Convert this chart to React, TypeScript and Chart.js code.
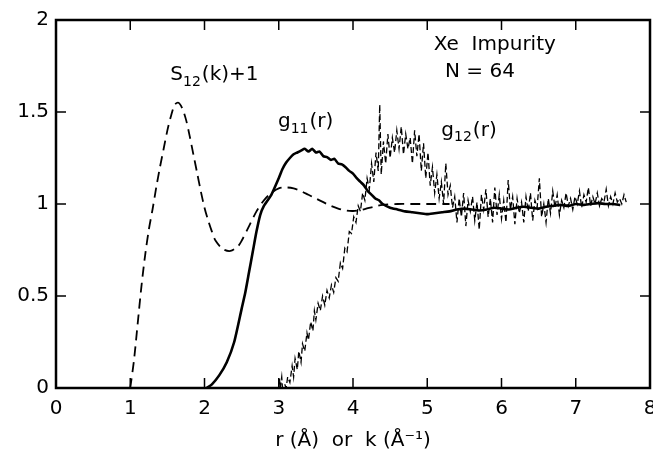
import React, { useEffect, useRef } from "react";
import { Chart, registerables } from "chart.js";
Chart.register(...registerables);

const FONT = "'DejaVu Sans', sans-serif";

const xRange = [0, 8];
const yRange = [0, 2];
const xStep = 1;
const yStep = 0.5;
const xTitle = "r (Å)  or  k (Å⁻¹)";

// S12(k)+1 : dashed structure factor
const s12: [number, number][] = [
  [1.0, 0], [1.05, 0.15], [1.1, 0.35], [1.15, 0.55], [1.2, 0.72], [1.25, 0.86], [1.3, 0.97],
  [1.35, 1.09], [1.4, 1.2], [1.45, 1.3], [1.5, 1.4], [1.55, 1.48], [1.6, 1.54], [1.65, 1.55],
  [1.7, 1.52], [1.75, 1.46], [1.8, 1.37], [1.85, 1.27], [1.9, 1.17], [1.95, 1.07], [2.0, 0.98],
  [2.05, 0.91], [2.1, 0.85], [2.15, 0.8], [2.25, 0.755], [2.35, 0.745], [2.45, 0.77], [2.5, 0.8],
  [2.6, 0.88], [2.7, 0.96], [2.8, 1.02], [2.9, 1.06], [3.0, 1.085], [3.1, 1.09], [3.2, 1.085],
  [3.3, 1.07], [3.4, 1.05], [3.5, 1.03], [3.6, 1.01], [3.7, 0.99], [3.8, 0.975], [3.9, 0.965],
  [4.0, 0.962], [4.1, 0.967], [4.2, 0.977], [4.3, 0.987], [4.4, 0.995], [4.6, 1.0], [4.8, 1.0],
  [5.0, 1.0], [5.3, 1.0],
];

// g11(r) : solid
const g11: [number, number][] = [
  [2.03, 0], [2.1, 0.02], [2.2, 0.07], [2.3, 0.14], [2.4, 0.25], [2.5, 0.43], [2.55, 0.52],
  [2.6, 0.63], [2.65, 0.74], [2.7, 0.85], [2.75, 0.94], [2.8, 0.99], [2.9, 1.05], [3.0, 1.14],
  [3.05, 1.19], [3.1, 1.225], [3.15, 1.25], [3.2, 1.27], [3.25, 1.28], [3.3, 1.29], [3.35, 1.3],
  [3.4, 1.285], [3.45, 1.3], [3.5, 1.28], [3.55, 1.285], [3.6, 1.26], [3.65, 1.255], [3.7, 1.24],
  [3.75, 1.245], [3.8, 1.22], [3.85, 1.215], [3.9, 1.2], [3.95, 1.18], [4.0, 1.165], [4.05, 1.14],
  [4.1, 1.12], [4.15, 1.1], [4.2, 1.07], [4.25, 1.05], [4.3, 1.03], [4.35, 1.02], [4.4, 1.0],
  [4.5, 0.98], [4.6, 0.97], [4.7, 0.96], [4.8, 0.955], [4.9, 0.95], [5.0, 0.945], [5.1, 0.95],
  [5.2, 0.955], [5.3, 0.96], [5.4, 0.97], [5.5, 0.975], [5.6, 0.97], [5.7, 0.965], [5.8, 0.97],
  [5.9, 0.98], [6.0, 0.975], [6.1, 0.97], [6.2, 0.98], [6.3, 0.985], [6.4, 0.98], [6.5, 0.975],
  [6.6, 0.985], [6.7, 0.99], [6.8, 0.995], [6.9, 0.99], [7.0, 1.0], [7.1, 0.995], [7.2, 1.0],
  [7.3, 1.005], [7.4, 1.0], [7.5, 1.0], [7.6, 0.995],
];

// g12(r) : noisy dashed
const g12: [number, number][] = [
  [3.0, 0], [3.01, 0.05], [3.02, 0], [3.04, 0.06], [3.05, 0], [3.08, 0.02], [3.1, 0], [3.12, 0.06],
  [3.15, 0.03], [3.18, 0.12], [3.2, 0.06], [3.22, 0.16], [3.25, 0.1], [3.27, 0.2], [3.3, 0.14],
  [3.32, 0.24], [3.35, 0.2], [3.38, 0.3], [3.4, 0.26], [3.43, 0.36], [3.46, 0.31], [3.48, 0.42],
  [3.5, 0.37], [3.53, 0.46], [3.56, 0.42], [3.59, 0.5], [3.62, 0.45], [3.65, 0.53], [3.68, 0.49],
  [3.71, 0.56], [3.74, 0.52], [3.77, 0.6], [3.8, 0.58], [3.83, 0.68], [3.86, 0.65], [3.89, 0.76],
  [3.92, 0.74], [3.95, 0.85], [3.98, 0.84], [4.01, 0.93], [4.04, 0.9], [4.07, 0.99], [4.1, 0.96],
  [4.13, 1.06], [4.16, 1.02], [4.19, 1.14], [4.22, 1.08], [4.25, 1.22], [4.28, 1.12], [4.31, 1.28],
  [4.34, 1.18], [4.36, 1.54], [4.38, 1.16], [4.41, 1.34], [4.44, 1.22], [4.47, 1.38], [4.5, 1.25],
  [4.53, 1.36], [4.56, 1.28], [4.59, 1.4], [4.62, 1.3], [4.65, 1.42], [4.68, 1.27], [4.71, 1.38],
  [4.74, 1.3], [4.77, 1.36], [4.8, 1.22], [4.83, 1.4], [4.86, 1.26], [4.89, 1.38], [4.92, 1.18],
  [4.95, 1.33], [4.98, 1.14], [5.01, 1.28], [5.04, 1.1], [5.07, 1.2], [5.1, 1.06], [5.13, 1.16],
  [5.16, 1.03], [5.19, 1.12], [5.22, 1.0], [5.25, 1.22], [5.28, 1.05], [5.31, 1.1], [5.34, 0.98],
  [5.37, 1.04], [5.4, 0.9], [5.43, 1.03], [5.46, 0.93], [5.49, 1.06], [5.52, 0.88], [5.55, 1.02],
  [5.58, 0.96], [5.61, 1.04], [5.64, 0.91], [5.67, 1.01], [5.7, 0.86], [5.73, 1.05], [5.76, 0.97],
  [5.79, 1.08], [5.82, 0.93], [5.85, 1.03], [5.88, 0.9], [5.91, 1.09], [5.94, 0.94], [5.97, 1.05],
  [6.0, 0.92], [6.03, 1.02], [6.06, 0.9], [6.09, 1.13], [6.12, 0.97], [6.15, 1.04], [6.18, 0.89],
  [6.21, 1.03], [6.24, 0.95], [6.27, 1.01], [6.3, 0.9], [6.33, 1.04], [6.36, 0.96], [6.39, 1.06],
  [6.42, 0.91], [6.45, 1.02], [6.48, 0.98], [6.51, 1.14], [6.54, 0.93], [6.57, 1.0], [6.6, 0.9],
  [6.63, 1.03], [6.66, 0.95], [6.69, 1.07], [6.72, 0.98], [6.75, 1.05], [6.78, 0.94], [6.81, 1.02],
  [6.84, 0.98], [6.87, 1.06], [6.9, 0.99], [6.93, 1.03], [6.96, 0.97], [6.99, 1.04], [7.02, 1.0],
  [7.05, 1.07], [7.08, 0.98], [7.11, 1.05], [7.14, 1.01], [7.17, 1.09], [7.2, 0.99], [7.23, 1.04],
  [7.26, 1.0], [7.29, 1.06], [7.32, 0.99], [7.35, 1.03], [7.38, 1.01], [7.41, 1.08], [7.44, 0.99],
  [7.47, 1.04], [7.5, 1.0], [7.53, 1.06], [7.56, 1.01], [7.59, 1.03], [7.62, 1.0], [7.65, 1.05],
  [7.68, 1.01],
];

// curve labels with subscripts: [text, isSubscript]
const curveLabels: { x: number; y: number; parts: [string, boolean][] }[] = [
  { x: 1.54, y: 1.7, parts: [["S", false], ["12", true], ["(k)+1", false]] },
  { x: 2.99, y: 1.446, parts: [["g", false], ["11", true], ["(r)", false]] },
  { x: 5.19, y: 1.4, parts: [["g", false], ["12", true], ["(r)", false]] },
];
const infoLines: { x: number; y: number; text: string }[] = [
  { x: 5.91, y: 1.864, text: "Xe  Impurity" },
  { x: 5.71, y: 1.717, text: "N = 64" },
];

const framePlugin = {
  id: "frameAndLabels",
  afterDatasetsDraw(chart: any) {
    const { ctx, chartArea: a, scales } = chart;
    const xs = scales.x;
    const ys = scales.y;
    ctx.save();
    ctx.strokeStyle = "#000";
    ctx.lineWidth = 2.5;
    ctx.strokeRect(a.left, a.top, a.right - a.left, a.bottom - a.top);
    ctx.lineWidth = 1.5;
    const tl = 10;
    xs.ticks.forEach((t: any) => {
      const px = xs.getPixelForValue(t.value);
      ctx.beginPath();
      ctx.moveTo(px, a.bottom);
      ctx.lineTo(px, a.bottom - tl);
      ctx.moveTo(px, a.top);
      ctx.lineTo(px, a.top + tl);
      ctx.stroke();
    });
    ys.ticks.forEach((t: any) => {
      const py = ys.getPixelForValue(t.value);
      ctx.beginPath();
      ctx.moveTo(a.left, py);
      ctx.lineTo(a.left + tl, py);
      ctx.moveTo(a.right, py);
      ctx.lineTo(a.right - tl, py);
      ctx.stroke();
    });
    ctx.fillStyle = "#000";
    ctx.textBaseline = "middle";
    curveLabels.forEach((l) => {
      let px = xs.getPixelForValue(l.x);
      const py = ys.getPixelForValue(l.y);
      l.parts.forEach(([txt, sub]) => {
        ctx.font = sub ? `14px ${FONT}` : `20px ${FONT}`;
        ctx.textAlign = "left";
        ctx.fillText(txt, px, sub ? py + 7 : py);
        px += ctx.measureText(txt).width + (sub ? 1 : 0);
      });
    });
    ctx.font = `20px ${FONT}`;
    ctx.textAlign = "center";
    infoLines.forEach((l) => {
      ctx.fillText(l.text, xs.getPixelForValue(l.x), ys.getPixelForValue(l.y));
    });
    ctx.restore();
  },
};

export default function App() {
  const ref = useRef<HTMLCanvasElement | null>(null);
  useEffect(() => {
    if (!ref.current) return;
    const toPts = (arr: [number, number][]) => arr.map(([x, y]) => ({ x, y }));
    const chart = new Chart(ref.current, {
      type: "line",
      data: {
        datasets: [
          {
            data: toPts(s12),
            borderColor: "#000",
            borderWidth: 1.8,
            borderDash: [10, 6],
            pointRadius: 0,
            tension: 0.3,
            fill: false,
          },
          {
            data: toPts(g11),
            borderColor: "#000",
            borderWidth: 2.6,
            pointRadius: 0,
            tension: 0.2,
            fill: false,
          },
          {
            data: toPts(g12),
            borderColor: "#000",
            borderWidth: 1.3,
            borderDash: [6, 3],
            pointRadius: 0,
            tension: 0,
            fill: false,
          },
        ],
      },
      options: {
        animation: false,
        responsive: true,
        maintainAspectRatio: false,
        layout: { padding: { left: 0, right: 3, top: 20, bottom: 0 } },
        plugins: { legend: { display: false }, tooltip: { enabled: false } },
        scales: {
          x: {
            type: "linear",
            min: xRange[0],
            max: xRange[1],
            grid: { display: false, drawTicks: false },
            border: { display: false },
            ticks: {
              stepSize: xStep,
              color: "#000",
              padding: 9,
              font: { family: FONT, size: 20 },
              callback: (v: any) => String(Number(v)),
            },
            title: {
              display: true,
              text: xTitle,
              color: "#000",
              font: { family: FONT, size: 20 },
              padding: { top: 4, bottom: 4 },
            },
            afterFit: (s: any) => {
              s.height = 69;
              s.paddingLeft = 0;
              s.paddingRight = 0;
            },
          },
          y: {
            min: yRange[0],
            max: yRange[1],
            grid: { display: false, drawTicks: false },
            border: { display: false },
            ticks: {
              stepSize: yStep,
              color: "#000",
              padding: 7,
              font: { family: FONT, size: 20 },
              callback: (v: any) => String(Number(v)),
            },
            afterFit: (s: any) => {
              s.width = 56;
              s.paddingTop = 0;
              s.paddingBottom = 0;
            },
          },
        },
      },
      plugins: [framePlugin],
    } as any);
    return () => chart.destroy();
  }, []);
  return (
    <div style={{ position: "fixed", left: 0, top: 0, width: 653, height: 457, background: "#fff" }}>
      <canvas ref={ref} />
    </div>
  );
}
